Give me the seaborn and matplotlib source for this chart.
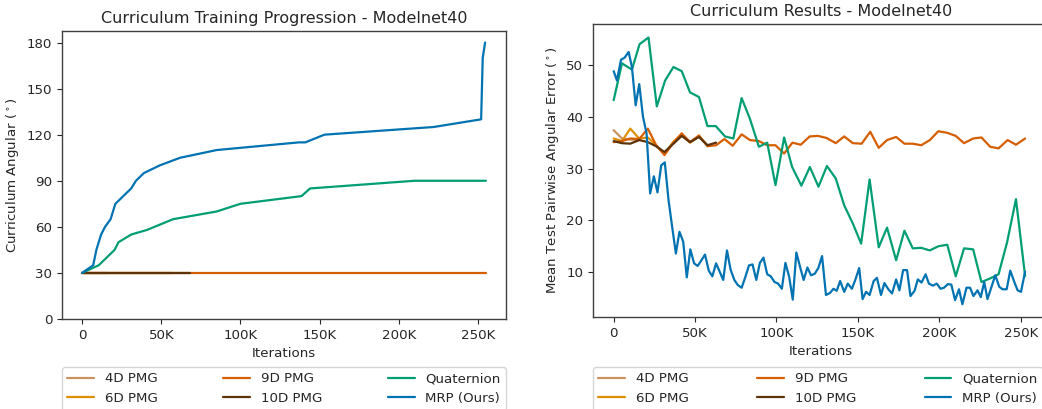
import numpy as np
import pandas as pd
import matplotlib
matplotlib.use("Agg")
import matplotlib.pyplot as plt
import seaborn as sns

# ---------------- data ----------------
methods = ["4D PMG", "6D PMG", "9D PMG", "10D PMG", "Quaternion", "MRP (Ours)"]
colors = ["#CA9161", "#DE8F05", "#D55E00", "#5C3308", "#029E73", "#0173B2"]

# Left panel: curriculum angle (deg) vs iterations (K)
curr_4d_x = [0, 15.7]
curr_4d_y = [30, 30]
curr_6d_x = [0, 57.6]
curr_6d_y = [30, 30]
curr_9d_x = [0, 255]
curr_9d_y = [30, 30]
curr_10d_x = [0, 68]
curr_10d_y = [30, 30]
curr_quat_x = [0, 10.5, 15.5, 20.5, 23, 31, 41, 57.5, 85, 100, 138.5, 144, 210, 255]
curr_quat_y = [30, 35, 40, 45, 50, 55, 58, 65, 70, 75, 80, 85, 90, 90]
curr_mrp_x = [0, 7, 9, 12, 14.5, 18, 21, 26, 31, 34, 39, 49, 62, 85, 137, 141, 153, 222, 252, 253, 254.5]
curr_mrp_y = [30, 35, 45, 55, 60, 65, 75, 80, 85, 90, 95, 100, 105, 110, 115, 115, 120, 125, 130, 170, 180]

# Right panel: mean test pairwise angular error (deg) vs iterations (K)
res_4d_x = [0, 5.1, 10.2, 15.7]
res_4d_y = [37.4, 35.8, 35.6, 35.5]
res_6d_x = [0, 5.1, 10.2, 15.7, 21, 26.1, 31.2, 36.7, 41.8, 46.9, 52.4, 57.6]
res_6d_y = [35.8, 35.3, 37.7, 35.8, 36.0, 34.5, 32.8, 35.2, 36.5, 35.0, 36.2, 34.5]
res_9d_x = [0, 5.1, 10.2, 15.7, 21, 26.1, 31.2, 36.7, 41.8, 46.9, 52.4, 57.6, 62.9, 68,
            73.1, 78.6, 83.7, 89.2, 94.3, 99.4, 104.7, 109.8, 114.9, 120.4, 125.5, 130.8,
            136.4, 141.6, 146.9, 152.3, 157.6, 162.8, 167.9, 173.5, 178.6, 183.7, 188.9,
            194.2, 199.4, 204.9, 210.1, 215.2, 220.8, 225.9, 231.3, 236.4, 242, 247.1, 252.7]
res_9d_y = [35.1, 35.3, 35.8, 35.7, 37.7, 34.5, 32.6, 35.0, 36.8, 35.1, 36.4, 34.3, 34.5, 35.7,
            34.4, 36.6, 35.5, 35.3, 34.5, 34.5, 32.9, 35.0, 34.6, 36.2, 36.3, 35.9,
            34.9, 36.2, 34.9, 34.8, 37.1, 34.0, 35.5, 36.1, 34.8, 34.8, 34.5,
            35.5, 37.2, 36.9, 36.3, 34.9, 35.8, 36.0, 34.2, 33.9, 35.5, 34.6, 35.8]
res_10d_x = [0, 5.1, 10.2, 15.7, 21, 26.1, 31.2, 36.7, 41.8, 46.9, 52.4, 57.6, 62.9]
res_10d_y = [35.3, 34.9, 34.8, 35.5, 35.1, 34.3, 33.2, 34.8, 36.3, 35.1, 36.1, 34.5, 35.0]
res_quat_x = [0, 5.1, 11.2, 15.9, 21.4, 26.5, 31.6, 36.7, 41.8, 46.9, 52.4, 57.6, 62.7, 68.4,
              73.5, 78.6, 83.7, 89.2, 94.3, 99.4, 104.7, 109.6, 115.3, 120.5, 125.8, 131,
              136.4, 141.6, 146.9, 152, 157.2, 162.8, 167.9, 173.5, 178.6, 183.7, 188.9,
              194.2, 199.4, 204.9, 210.1, 215.2, 220.8, 225.9, 231.3, 236.4, 241.6, 247.1, 252.7]
res_quat_y = [43.2, 50.3, 49.1, 54.0, 55.3, 42.0, 47.0, 49.6, 48.8, 44.7, 43.8, 38.2, 38.2, 36.2,
              35.8, 43.6, 39.6, 34.2, 35.0, 26.8, 36.0, 30.3, 26.7, 30.3, 26.5, 30.5,
              28.1, 22.9, 19.4, 15.5, 27.9, 14.8, 18.6, 12.3, 18.0, 14.6, 14.7,
              14.2, 15.0, 15.3, 9.2, 14.6, 14.4, 8.1, 8.8, 9.6, 15.7, 24.1, 9.3]
res_mrp_x = [0, 2, 4.5, 6.7, 9.2, 11.2, 13.5, 15.7, 18, 20.2, 22.4, 24.7, 26.9, 29.2, 31.4,
             33.7, 35.9, 38.2, 40.4, 42.7, 44.9, 47.1, 49.4, 51.6, 53.9, 56.1, 58.4, 60.6,
             62.9, 65.1, 67.3, 69.6, 71.8, 74.1, 76.3, 78.6, 80.8, 83.1, 85.3, 87.6, 89.8,
             92, 94.3, 96.5, 98.8, 101, 103.3, 105.5, 107.8, 110, 112.2, 114.5, 116.7, 119,
             121.2, 123.5, 125.7, 128, 130.4, 132.9, 135, 137, 139.1, 141.6, 143.8, 146.3,
             148.4, 150.8, 152.9, 155, 157.2, 159.7, 161.7, 164.2, 166.3, 168.7, 171, 173.5,
             175.5, 177.8, 180.2, 182.3, 184.8, 186.8, 189.1, 191.6, 193.6, 196.1, 198.4,
             200.8, 202.9, 205.3, 207.4, 209.7, 212.1, 214.2, 216.7, 218.9, 221, 223.5,
             225.5, 227.6, 229.6, 232.1, 234.4, 236.8, 238.9, 241.4, 243.6, 246.1, 248.1,
             250.2, 252.7]
res_mrp_y = [48.8, 47.0, 51.0, 51.4, 52.5, 49.6, 42.2, 46.3, 40.0, 36.8, 25.2, 28.5, 25.4, 30.6, 31.2,
             23.9, 18.8, 13.6, 17.8, 15.9, 9.0, 14.4, 11.7, 11.2, 12.3, 13.4, 10.3, 9.2,
             11.7, 10.1, 8.5, 14.2, 10.5, 8.5, 7.5, 7.0, 9.0, 11.3, 11.5, 8.5, 11.8,
             12.8, 9.6, 9.2, 8.1, 7.8, 6.8, 11.8, 9.1, 4.7, 13.8, 11.0, 8.5, 10.9,
             9.4, 9.7, 10.8, 13.1, 5.6, 6.0, 6.8, 6.4, 8.3, 6.2, 7.8, 6.8,
             8.5, 10.8, 4.8, 6.2, 5.6, 8.3, 8.9, 5.6, 7.9, 6.7, 5.9, 8.6,
             6.5, 10.4, 10.4, 5.4, 6.4, 8.6, 8.0, 9.6, 7.8, 7.4, 7.8,
             6.8, 7.0, 7.7, 7.6, 4.6, 6.7, 3.8, 7.0, 7.0, 5.4, 6.5,
             5.2, 8.1, 4.8, 7.2, 9.4, 7.2, 6.7, 6.7, 10.3, 8.1, 6.5,
             6.2, 10.1]

x_ticks = [0, 50, 100, 150, 200, 250]
x_tick_labels = ["0", "50K", "100K", "150K", "200K", "250K"]
left_y_ticks = [0, 30, 60, 90, 120, 150, 180]
right_y_ticks = [10, 20, 30, 40, 50]


def build(series):
    frames = []
    for name, xs, ys in series:
        frames.append(pd.DataFrame({"iter": np.array(xs) * 1000.0, "val": ys, "method": name}))
    return pd.concat(frames, ignore_index=True)


df_left = build([
    ("4D PMG", curr_4d_x, curr_4d_y), ("6D PMG", curr_6d_x, curr_6d_y),
    ("9D PMG", curr_9d_x, curr_9d_y), ("10D PMG", curr_10d_x, curr_10d_y),
    ("Quaternion", curr_quat_x, curr_quat_y), ("MRP (Ours)", curr_mrp_x, curr_mrp_y),
])
df_right = build([
    ("4D PMG", res_4d_x, res_4d_y), ("6D PMG", res_6d_x, res_6d_y),
    ("9D PMG", res_9d_x, res_9d_y), ("10D PMG", res_10d_x, res_10d_y),
    ("Quaternion", res_quat_x, res_quat_y), ("MRP (Ours)", res_mrp_x, res_mrp_y),
])

# ---------------- style ----------------
sns.set_style("ticks")
plt.rcParams["font.family"] = ["DejaVu Sans"]
plt.rcParams["axes.edgecolor"] = "0.25"
plt.rcParams["axes.linewidth"] = 1.0

palette = dict(zip(methods, colors))
FS = 9.6
TFS = 11.5

fig = plt.figure(figsize=(10.42, 4.09), dpi=100)
W, H = 1042.0, 409.0
ax1 = fig.add_axes([62 / W, 1 - 319 / H, (506 - 62) / W, (319 - 31) / H])
ax2 = fig.add_axes([593 / W, 1 - 317 / H, (1049.5 - 593) / W, (317 - 24) / H])


def draw(ax, df, title, ylabel, yticks, ylim, leg_y, leg_w):
    sns.lineplot(data=df, x="iter", y="val", hue="method", hue_order=methods,
                 palette=palette, linewidth=1.6, estimator=None, sort=False, ax=ax)
    handles, labels = ax.get_legend_handles_labels()
    ax.get_legend().remove()
    for h in handles:
        h.set_linewidth(1.6)
    ax.legend(handles, labels, loc="upper left", bbox_to_anchor=(0, leg_y, leg_w, 0),
              mode="expand", ncol=3, borderaxespad=0, fontsize=FS, frameon=True,
              edgecolor="0.8")
    ax.set_xlim(-12.7e3, 267.7e3)
    ax.set_xticks([t * 1000 for t in x_ticks])
    ax.set_xticklabels(x_tick_labels)
    ax.set_yticks(yticks)
    ax.set_ylim(*ylim)
    ax.set_xlabel("Iterations", fontsize=FS)
    ax.set_ylabel(ylabel, fontsize=FS)
    ax.set_title(title, fontsize=TFS)
    ax.tick_params(labelsize=FS)
    for s in ax.spines.values():
        s.set_visible(True)


draw(ax1, df_left, "Curriculum Training Progression - Modelnet40",
     r"Curriculum Angular ($^\circ$)", left_y_ticks, (0, 187.5), -48 / 288, 1.0)
draw(ax2, df_right, "Curriculum Results - Modelnet40",
     r"Mean Test Pairwise Angular Error ($^\circ$)", right_y_ticks, (1.35, 57.9), -50 / 293, 0.985)

fig.savefig("out.png", dpi=100)
